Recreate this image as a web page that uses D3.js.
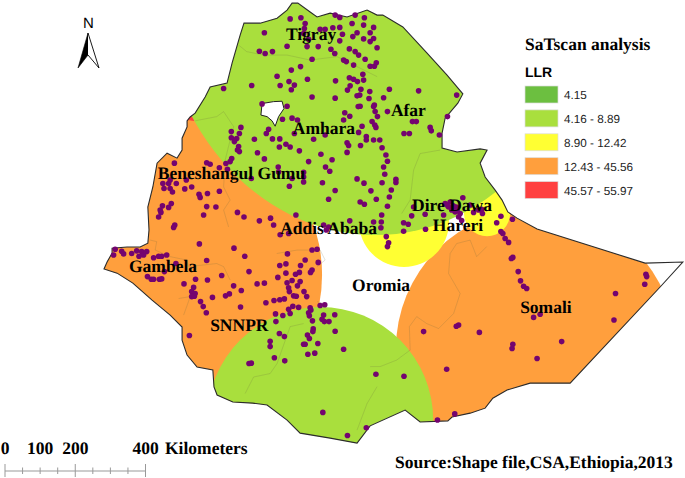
<!DOCTYPE html>
<html>
<head>
<meta charset="utf-8">
<title>SaTscan analysis</title>
<script src="https://cdnjs.cloudflare.com/ajax/libs/d3/7.8.5/d3.min.js"></script>
<style>
    body { margin: 0; background: #fff; }
    svg { text-rendering: geometricPrecision; }
    .place { font: bold 17.5px "Liberation Serif", serif; fill: #000; }
    .legend-value { font: 11.7px "Liberation Sans", sans-serif; fill: #222; }
</style>
</head>
<body>
<div id="map"></div>
<script>
// country outline, lon/lat
const outline = [
    [35.16,11.81],[35.24,11.91],[35.37,12.01],[35.63,12.43],[35.76,12.69],[36.20,12.79],[36.33,13.31],
    [36.54,14.04],[36.64,14.35],[37.06,14.35],[37.50,14.48],[37.76,14.69],[37.89,14.87],[38.04,14.87],
    [38.36,14.64],[38.54,14.51],[38.88,14.61],[39.32,14.51],[39.84,14.69],[40.10,14.56],[40.25,14.56],
    [40.77,14.25],[41.40,13.57],[41.92,13.00],[42.33,12.51],[42.20,12.27],[41.87,11.88],[41.79,11.49],
    [41.79,11.10],[42.18,11.00],[42.78,11.08],[42.96,11.05],[42.78,10.71],[42.91,10.35],[43.17,10.01],
    [43.35,9.75],[43.50,9.44],[43.74,9.28],[44.26,9.00],[47.07,8.11],[48.05,8.14],[47.46,7.49],
    [45.12,4.99],[44.08,4.99],[43.48,4.81],[43.11,4.60],[42.91,4.34],[42.52,4.21],[42.05,4.11],
    [41.94,4.01],[41.22,3.98],[40.83,4.29],[39.92,3.88],[39.58,3.43],[38.88,3.56],[38.10,3.69],
    [37.76,4.03],[37.24,4.42],[36.87,4.47],[36.35,4.50],[35.94,4.68],[35.86,4.89],[35.83,5.33],
    [35.42,5.41],[35.16,5.72],[35.03,6.11],[35.03,6.45],[34.72,6.76],[34.25,7.15],[33.75,7.59],
    [33.34,7.85],[33.00,7.96],[33.08,8.14],[33.21,8.37],[33.21,8.50],[33.60,8.53],[33.94,8.53],
    [34.14,8.63],[34.17,8.97],[34.14,9.57],[34.27,10.09],[34.38,10.71],[34.64,10.97],[34.90,10.84],
    [35.03,11.05],[35.03,11.36],[35.16,11.65]
];

const lakeTana = [
    [37.11,12.26],[37.41,12.31],[37.63,12.32],[37.68,12.13],[37.54,11.92],[37.45,11.67],
    [37.37,11.81],[37.24,11.92],[37.08,11.96]
];

// faint regional boundaries
const regionBorders = [
    [[35.37,11.81],[35.93,11.92],[36.11,12.05],[36.37,11.66],[36.28,11.31],[36.15,10.79],[36.11,10.09],[36.28,9.75],[36.11,9.49],[36.24,9.05]],
    [[36.50,13.78],[36.71,13.61],[37.15,13.52],[37.76,13.52],[38.36,13.39],[39.06,13.48],[39.58,13.22],[40.10,12.96]],
    [[41.74,11.05],[41.22,10.96],[41.05,10.53],[40.96,9.75],[40.74,9.40]],
    [[42.52,8.71],[42.17,8.62],[42.00,8.36],[41.96,7.84],[42.26,7.32],[42.09,6.80],[41.70,6.41],[41.39,6.54],[41.13,6.72],[40.94,6.46],[40.96,5.85],[40.61,5.59],[40.18,5.42],[39.92,5.42]],
    [[40.10,4.90],[39.84,4.46],[39.58,3.77]],
    [[42.52,8.71],[42.69,8.28],[42.95,8.54]],
    [[34.20,8.71],[34.37,8.67],[34.33,8.45],[34.72,8.28],[35.15,8.19],[35.20,8.02],[35.93,8.10],[36.11,8.02],[36.28,7.67]],
    [[34.94,7.19],[35.24,7.24],[35.15,6.98],[35.07,6.76]],
    [[37.49,8.36],[38.02,8.45],[38.62,8.45],[38.75,8.19],[38.54,8.02]],
    [[36.67,4.72],[36.89,5.15],[37.32,5.24],[37.50,5.50],[37.84,6.46],[38.19,6.54]],
    [[38.54,7.11],[38.71,7.06]]
];

// SaTScan clusters: centre lon, centre lat, radii in degrees, LLR class
const clusterLon = [35.16, 34.59, 44.23, 40.80, 42.96, 38.62, 40.05];
const clusterLat = [12.00, 7.80, 5.88, 9.18, 9.41, 4.03, 15.47];
const clusterRadiusX = [0.39, 4.08, 3.64, 1.17, 0.60, 2.94, 5.64];
const clusterRadiusY = [0.39, 4.08, 3.64, 1.17, 0.60, 2.94, 6.63];
const clusterClass = [4, 3, 3, 2, 2, 1, 1];

const llrLabels = ["4.15", "4.16 - 8.89", "8.90 - 12.42", "12.43 - 45.56", "45.57 - 55.97"];
const llrColors = ["#6cbf40", "#a9df3d", "#ffff33", "#ff9f3d", "#ff4040"];

const northSites = [
    [37.84,14.46],[38.12,14.49],[38.23,14.34],[38.21,14.21],[37.17,14.10],[38.19,14.08],[38.32,13.93],[38.28,13.74],
    [37.76,13.75],[37.04,13.62],[37.19,13.56],[37.38,13.61],[38.57,13.74],[38.90,13.67],[39.00,13.56],[38.41,13.41],
    [39.38,13.68],[39.53,13.61],[39.62,13.52],[39.23,13.39],[39.30,13.35],[39.79,13.41],[39.49,13.26],[37.87,13.13],
    [38.11,13.22],[39.92,13.23],[40.03,13.23],[40.08,13.32],[39.01,14.56],[39.13,14.50],[39.53,14.56],[39.77,14.49],
    [39.75,14.30],[40.01,14.24],[39.45,14.34],[38.95,14.23],[39.13,14.24],[39.20,14.06],[39.13,13.89],[38.62,14.19],
    [38.75,14.19],[39.58,14.10],[39.47,14.00],[39.92,14.10],[39.75,13.94],[40.01,13.95],[39.92,13.87],[40.10,13.71],
    [37.50,12.97],[38.29,12.89],[39.02,12.85],[39.38,12.93],[39.49,12.89],[39.59,12.83],[39.75,12.87],[39.73,13.02],
    [37.81,12.83],[37.95,12.74],[37.58,12.73],[37.87,12.62],[36.84,12.73],[36.11,12.65],[39.40,12.72],[39.33,12.61],
    [39.68,12.63],[39.91,12.57],[39.65,12.48],[39.58,12.46],[39.89,12.39],[38.41,12.43],[39.01,12.40],[37.76,12.19],
    [40.03,12.22],[40.01,12.18],[39.66,12.19],[39.61,12.18],[40.05,12.05],[40.11,11.92],[39.26,12.02],[39.39,11.93],
    [39.23,11.83],[37.11,12.25],[37.64,11.85],[37.89,11.88],[38.03,11.83],[39.97,11.79],[40.04,11.70],[40.07,11.64],
    [39.71,11.67],[37.28,11.59],[37.22,11.48],[37.95,11.48],[36.56,11.64],[36.52,11.48],[36.31,11.53],[36.31,11.37],
    [36.45,11.35],[36.39,11.27],[36.91,11.33],[37.38,11.34],[37.57,11.34],[38.75,11.44],[38.45,11.33],[39.62,11.51],
    [39.82,11.40],[39.82,11.31],[40.01,11.31],[40.17,11.31],[39.32,11.24],[39.36,11.17],[39.67,11.17],[36.50,11.14],
    [36.47,11.05],[36.52,11.01],[37.56,11.13],[37.73,11.20],[37.84,11.13],[38.08,11.03],[36.99,10.98],[38.64,10.94],
    [39.32,10.99],[37.17,10.82],[36.32,10.83],[36.28,10.75],[38.32,10.75],[38.93,10.80],[38.76,10.61],[38.87,10.50],
    [36.17,10.70],[35.67,10.72],[35.76,10.68],[34.83,10.71],[36.00,10.59],[37.53,10.61],[37.54,10.48],[36.21,10.55],
    [38.19,10.47],[38.19,10.35],[38.19,10.22],[36.83,10.31],[37.89,10.31],[35.14,10.27],[34.53,10.18],[34.68,10.18],
    [34.88,10.18],[34.72,10.27],[35.28,10.09],[35.10,10.04],[34.56,10.05],[34.72,10.05],[34.78,9.96],[35.47,9.90],
    [35.50,9.82],[35.69,9.92],[36.00,9.98],[37.82,10.11],[38.68,10.20],[39.58,10.30],[39.76,10.19],[39.94,9.99],
    [39.01,10.00],[38.84,9.77],[40.08,9.77],[39.66,9.70],[39.77,9.64],[34.75,9.66],[34.68,9.56],[34.52,9.60],
    [35.67,9.58],[35.91,9.57],[34.46,9.49],[34.48,9.43],[34.42,9.31],[35.59,9.36],[36.47,9.43],[36.64,9.31],
    [37.99,9.36],[37.33,9.28],[37.04,9.21],[37.41,9.10],[34.84,9.10],[34.81,9.04],[39.39,9.21],[37.58,8.85],
    [37.80,8.88],[38.71,9.10],[38.84,9.05],[38.78,8.97],[40.01,9.18]
];

const eastSites = [
    [40.42,12.63],[41.18,12.59],[40.27,12.41],[42.17,12.48],[40.37,12.05],[41.93,11.92],[41.02,11.79],[41.12,11.79],
    [41.48,11.64],[41.51,11.55],[40.80,11.48],[40.94,11.48],[41.72,11.44],[40.23,11.11],[40.33,10.92],[40.37,10.76],
    [40.27,10.61],[40.30,10.42],[40.59,10.29],[40.59,10.21],[40.23,10.20],[40.47,10.01],[40.42,9.83],[40.37,9.59],
    [42.33,9.81],[41.87,9.66],[41.96,9.57],[42.00,9.70],[42.04,9.49],[42.16,9.57],[42.13,9.44],[42.26,9.40],
    [42.22,9.31],[41.35,9.38],[41.00,9.34],[41.05,9.57],[41.83,9.36],[42.52,9.62],[42.61,9.43],[42.74,9.49],
    [42.84,9.40],[42.82,9.51],[40.22,9.36],[40.21,9.18],[40.20,9.03],[40.79,9.16],[40.91,9.12],[40.79,8.94],
    [41.36,8.99],[43.32,9.33],[43.21,9.16],[43.62,9.25],[42.08,9.60],[42.18,9.48],[42.30,9.22],[41.92,9.62]
];

const somaliSites = [
    [43.32,8.93],[43.37,8.88],[43.43,8.75],[43.52,8.65],[40.34,8.80],[40.40,8.64],[40.37,8.54],[43.63,8.26],
    [43.59,8.23],[43.77,7.89],[43.83,7.65],[43.91,7.51],[43.99,7.45],[47.09,7.82],[47.11,7.76],[47.06,7.56],
    [46.30,7.32],[44.34,6.78],[44.17,6.70],[46.26,6.63],[42.22,6.50],[42.16,6.47],[41.31,6.33],[42.76,6.31],
    [43.63,6.00],[43.61,5.89],[44.90,6.07],[44.26,5.63],[41.91,5.35],[40.07,5.22],[40.80,5.17],[42.12,4.19],
    [41.67,4.03]
];

const southWestSites = [
    [33.29,8.47],[33.25,8.32],[33.46,8.42],[33.51,8.35],[33.72,8.36],[33.85,8.43],[33.98,8.41],[34.11,8.41],
    [33.91,8.29],[34.03,8.32],[34.29,8.25],[34.42,8.29],[34.50,8.29],[34.63,8.32],[34.87,8.10],[34.57,7.89],
    [35.48,8.61],[36.38,8.50],[36.66,8.29],[35.67,8.18],[36.77,7.89],[36.06,7.79],[34.13,7.76],[34.23,7.69],
    [34.29,7.69],[34.44,7.69],[34.50,7.70],[35.08,7.57],[35.38,7.69],[35.69,7.67],[36.37,7.52],[36.57,7.40],
    [36.98,7.57],[37.17,7.59],[35.33,7.48],[35.28,7.37],[35.37,7.32],[35.28,7.24],[35.35,7.25],[36.26,7.31],
    [36.16,7.26],[35.82,7.22],[35.51,7.11],[35.58,6.98],[35.66,6.82],[36.55,6.97],[37.21,7.08],[37.42,7.14],
    [37.57,7.16],[37.69,7.18],[37.77,8.35],[38.41,8.45],[38.54,8.47],[38.23,8.19],[38.57,8.13],[37.73,8.09],
    [37.57,8.05],[38.11,8.05],[37.73,7.85],[37.52,7.74],[37.98,7.82],[38.08,7.87],[38.41,7.93],[38.37,7.87],
    [37.89,7.66],[38.10,7.63],[37.76,7.60],[38.03,7.52],[37.80,7.47],[37.82,7.37],[38.20,7.37],[37.93,7.26],
    [38.00,7.25],[38.27,7.24],[37.91,6.99],[38.06,6.96],[37.80,6.91],[37.84,6.80],[37.46,6.79],[37.65,6.75],
    [37.47,6.59],[38.36,6.95],[38.38,6.89],[38.32,6.82],[38.34,6.74],[38.62,7.01],[38.74,7.03],[38.71,6.76],
    [39.00,6.77],[38.67,6.65],[38.73,6.59],[38.85,6.59],[38.42,6.61],[38.44,6.40],[38.43,6.33],[39.01,6.34],
    [38.29,6.24],[38.34,6.15],[37.56,6.28],[37.69,6.20],[37.32,6.08],[37.32,5.94],[38.56,6.02],[38.19,6.00],
    [38.23,6.00],[39.23,5.87],[38.30,5.74],[38.48,5.77],[37.43,5.65],[37.70,5.57],[36.77,5.50],[36.83,5.51],
    [38.69,4.23],[39.82,3.83],[39.33,3.63],[35.22,6.23]
];

const placeNames = ["Tigray", "Amhara", "Afar", "Beneshangul Gumu", "Addis Ababa", "Dire Dawa", "Hareri", "Oromia", "Gambela", "SNNPR", "Somali"];
const placeLon = [37.73, 37.91, 40.46, 34.40, 37.58, 41.01, 41.55, 39.45, 33.65, 35.76, 43.82];
const placeLat = [13.91, 11.47, 11.94, 10.30, 8.87, 9.47, 8.95, 7.39, 7.88, 6.35, 6.81];

const scaleBarKm = [0, 50, 100, 150, 200, 250, 300, 350, 400];
const scaleBarLabels = [0, 100, 200, 400];


const width = 685, height = 478;

const svg = d3.select("#map")
    .append("svg")
    .attr("width", width)
    .attr("height", height)
    .style("display", "block");

const x = d3.scaleLinear().domain([33, 48]).range([104, 680.9]);
const y = d3.scaleLinear().domain([14.9, 3.4]).range([2, 444.3]);
const degrees = d3.scaleLinear().domain([0, 1]).range([0, 38.46]);
const km = d3.scaleLinear().domain([0, 400]).range([5, 145.5]);

const geoLine = d3.line().x(d => x(d[0])).y(d => y(d[1]));
const closedLine = pts => geoLine(pts) + "Z";

svg.append("clipPath")
    .attr("id", "country")
    .append("path")
    .attr("d", closedLine(outline));

// clusters, clipped to the country
svg.append("g")
    .attr("clip-path", "url(#country)")
    .selectAll("ellipse")
    .data(clusterLon)
    .enter()
    .append("ellipse")
    .attr("cx", d => x(d))
    .attr("cy", (d, i) => y(clusterLat[i]))
    .attr("rx", (d, i) => degrees(clusterRadiusX[i]))
    .attr("ry", (d, i) => degrees(clusterRadiusY[i]))
    .attr("fill", (d, i) => llrColors[clusterClass[i]]);

svg.append("g")
    .attr("clip-path", "url(#country)")
    .selectAll("path")
    .data(regionBorders)
    .enter()
    .append("path")
    .attr("d", geoLine)
    .attr("fill", "none")
    .attr("stroke", "#6b6b40")
    .attr("stroke-opacity", 0.25)
    .attr("stroke-width", 0.8);

svg.append("path")
    .attr("d", closedLine(outline))
    .attr("fill", "none")
    .attr("stroke", "#2b2b2b")
    .attr("stroke-width", 1.1);

svg.append("path")
    .attr("d", closedLine(lakeTana))
    .attr("fill", "#fff")
    .attr("stroke", "#222")
    .attr("stroke-width", 1);

svg.append("g")
    .selectAll("circle")
    .data([...northSites, ...eastSites, ...somaliSites, ...southWestSites])
    .enter()
    .append("circle")
    .attr("cx", d => x(d[0]))
    .attr("cy", d => y(d[1]))
    .attr("r", 2.8)
    .attr("fill", "#74046f");

svg.append("g")
    .selectAll("text")
    .data(placeNames)
    .enter()
    .append("text")
    .attr("class", "place")
    .attr("x", (d, i) => x(placeLon[i]))
    .attr("y", (d, i) => y(placeLat[i]))
    .text(d => d);

// legend
svg.append("text")
    .attr("x", 525)
    .attr("y", 50)
    .style("font", "bold 17.5px 'Liberation Serif', serif")
    .text("SaTscan analysis");

svg.append("text")
    .attr("x", 525)
    .attr("y", 77)
    .style("font", "bold 14px 'Liberation Sans', sans-serif")
    .text("LLR");

const legendY = d3.scaleBand()
    .domain(llrLabels)
    .range([86, 199.5])
    .paddingInner(0.25)
    .paddingOuter(0);

svg.append("g")
    .selectAll("rect")
    .data(llrLabels)
    .enter()
    .append("rect")
    .attr("x", 525)
    .attr("y", d => legendY(d))
    .attr("width", 33)
    .attr("height", 17)
    .attr("fill", (d, i) => llrColors[i])
    .attr("stroke", "#ddd")
    .attr("stroke-width", 0.7);

svg.append("g")
    .selectAll("text")
    .data(llrLabels)
    .enter()
    .append("text")
    .attr("class", "legend-value")
    .attr("x", 564)
    .attr("y", d => legendY(d) + 13)
    .text(d => d);

// north arrow
svg.append("text")
    .attr("x", 88.5)
    .attr("y", 28)
    .attr("text-anchor", "middle")
    .style("font", "15px 'Liberation Sans', sans-serif")
    .text("N");

svg.append("path")
    .attr("d", "M88,33L78,68L88,55Z")
    .attr("fill", "#000")
    .attr("stroke", "#000")
    .attr("stroke-width", 0.6);

svg.append("path")
    .attr("d", "M88,33L99,68L88,55")
    .attr("fill", "#fff")
    .attr("stroke", "#000")
    .attr("stroke-width", 0.9);

// scale bar
const scaleBar = svg.append("g");

scaleBar.append("line")
    .attr("x1", km(0))
    .attr("x2", km(400))
    .attr("y1", 471)
    .attr("y2", 471)
    .attr("stroke", "#999");

scaleBar.selectAll(".tick-mark")
    .data(scaleBarKm)
    .enter()
    .append("line")
    .attr("class", "tick-mark")
    .attr("x1", d => km(d))
    .attr("x2", d => km(d))
    .attr("y1", d => d % 200 === 0 ? 464 : 467.5)
    .attr("y2", d => d % 200 === 0 ? 477 : 474)
    .attr("stroke", "#999");

scaleBar.selectAll(".tick-label")
    .data(scaleBarLabels)
    .enter()
    .append("text")
    .attr("class", "tick-label place")
    .attr("x", d => km(d))
    .attr("y", 454)
    .attr("text-anchor", "middle")
    .text(d => d);

scaleBar.append("text")
    .attr("class", "place")
    .attr("x", 165)
    .attr("y", 454)
    .text("Kilometers");

svg.append("text")
    .attr("class", "place")
    .attr("x", 395)
    .attr("y", 468)
    .text("Source:Shape file,CSA,Ethiopia,2013");
</script>
</body>
</html>
